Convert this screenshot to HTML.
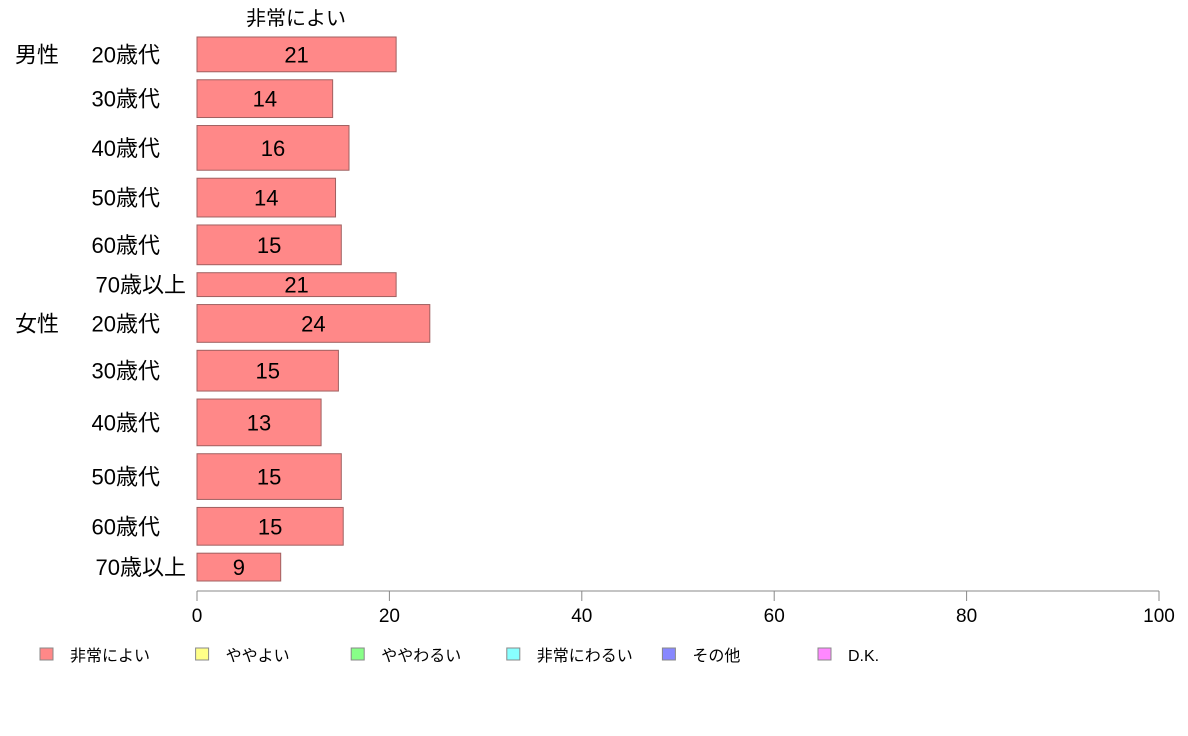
<!DOCTYPE html>
<html><head><meta charset="utf-8">
<style>
body{margin:0;background:#fff;}
svg{display:block;font-family:"Liberation Sans","Noto Sans CJK JP",sans-serif;}
</style></head>
<body>
<svg id="chart" width="1188" height="736" viewBox="0 0 1188 736">
<text x="296" y="25" font-size="20" text-anchor="middle" fill="#000">非常によい</text>
<g id="bars"></g>
<g id="xaxis"></g>
<g id="legend"></g>
</svg>
<script>
const groups = ["男性","","","","","","女性","","","","",""];
const categories = ["20歳代","30歳代","40歳代","50歳代","60歳代","70歳以上","20歳代","30歳代","40歳代","50歳代","60歳代","70歳以上"];
const values = [20.7,14.1,15.8,14.4,15.0,20.7,24.2,14.7,12.9,15.0,15.2,8.7];
const weights = [35,38,45,39,40,24,38,41,47,46,38,28];
const xTicks = [0,20,40,60,80,100];
const legendLabels = ["非常によい","ややよい","ややわるい","非常にわるい","その他","D.K."];
const legendColors = ["#ff8888","#ffff88","#88ff88","#88ffff","#8888ff","#ff88ff"];

const NS="http://www.w3.org/2000/svg";
const x0=197,x1=1159,yTop=37,yBot=581,gap=8;
const xs=v=>x0+(v/100)*(x1-x0);
function mk(tag,attrs,parent){const e=document.createElementNS(NS,tag);for(const k in attrs)e.setAttribute(k,attrs[k]);parent.appendChild(e);return e;}
const bars=document.getElementById('bars');
const totalW=weights.reduce((a,b)=>a+b,0);
const unit=(yBot-yTop-gap*(weights.length-1))/totalW;
let y=yTop;
values.forEach((v,i)=>{
  const h=weights[i]*unit;
  const r=mk('rect',{x:x0,y:y,width:xs(v)-x0,height:h,fill:"#ff8888",stroke:"#a06060","stroke-width":1},bars);
  
  
  const cy=y+h/2+8;
  const t=mk('text',{x:(x0+xs(v))/2,y:cy,"font-size":22,"text-anchor":"middle",fill:"#000"},bars);
  t.textContent=Math.round(v);
  
  
  const l=mk('text',{x:186,y:cy,"font-size":22,"text-anchor":"end",fill:"#000"},bars);
  l.textContent=(i===5||i===11)?categories[i]:categories[i];
  if(i!==5&&i!==11)l.setAttribute('x',160);
  
  
  if(groups[i]){
    const g=mk('text',{x:15,y:cy,"font-size":22,fill:"#000"},bars);
    g.textContent=groups[i];
    
    
  }
  y+=h+gap;
});
const ax=document.getElementById('xaxis');
const al=mk('line',{x1:x0,x2:x1,y1:591,y2:591,stroke:"#888","stroke-width":1},ax);


xTicks.forEach(t=>{
  const tl=mk('line',{x1:xs(t),x2:xs(t),y1:591,y2:601,stroke:"#888","stroke-width":1},ax);
  
  
  const tt=mk('text',{x:xs(t),y:622,"font-size":19,"text-anchor":"middle",fill:"#000"},ax);
  tt.textContent=t;
  
  
});
const lg=document.getElementById('legend');
legendLabels.forEach((s,i)=>{
  const lx=40+i*155.6;
  const r=mk('rect',{x:lx,y:648,width:13,height:12,fill:legendColors[i],stroke:"#888","stroke-width":1},lg);
  
  
  const t=mk('text',{x:lx+30,y:661,"font-size":16,fill:"#000"},lg);
  t.textContent=s;
  
  
});
</script>
</body></html>
